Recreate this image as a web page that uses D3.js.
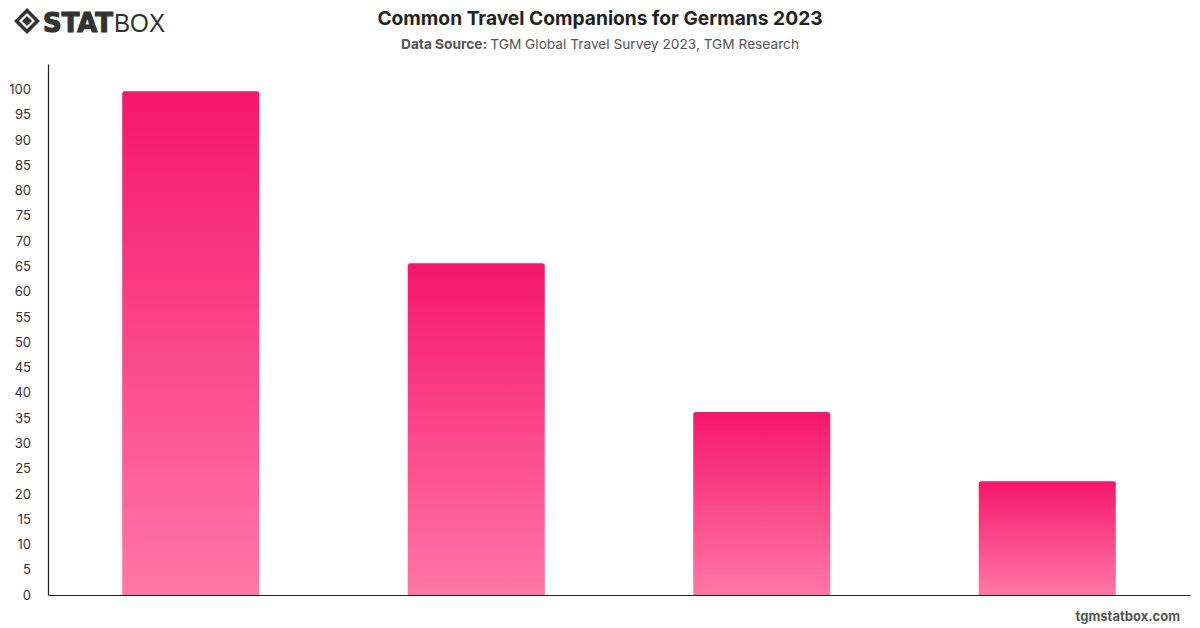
<!DOCTYPE html>
<html><head><meta charset="utf-8">
<script src="https://cdn.jsdelivr.net/npm/d3@7"></script>
<style>
body{margin:0;background:#fff;}
svg{display:block;font-family:Inter,"Liberation Sans",Arial,sans-serif;}
</style></head>
<body>
<svg id="chart" width="1200" height="628"></svg>
<script>
const categories = ["Partner", "Family", "Friends", "Alone"];
const values = [99.6, 65.6, 36.2, 22.5];
const tickValues = [0,5,10,15,20,25,30,35,40,45,50,55,60,65,70,75,80,85,90,95,100];

const svg = d3.select("#chart");
const W = 1200, H = 628;
const m = {left:48, right:10, top:64, bottom:33};
const x = d3.scaleBand().domain(categories).range([m.left, W - m.right]).paddingInner(0.52).paddingOuter(0.26);
const y = d3.scaleLinear().domain([0,105]).range([H - m.bottom, m.top]);

const defs = svg.append("defs");
const grad = defs.append("linearGradient").attr("id","barGrad").attr("x1",0).attr("y1",0).attr("x2",0).attr("y2",1);
grad.append("stop").attr("offset","0%").attr("stop-color","#f6176a");
grad.append("stop").attr("offset","100%").attr("stop-color","#ff77a5");

// bars
svg.append("g").selectAll("path").data(values).join("path")
  .attr("fill","url(#barGrad)")
  .attr("d",(d,i)=>{
    const x0 = x(categories[i]), w = x.bandwidth(), y0 = y(d), y1 = y(0), r = 2.5;
    return `M${x0},${y1}V${y0+r}Q${x0},${y0} ${x0+r},${y0}H${x0+w-r}Q${x0+w},${y0} ${x0+w},${y0+r}V${y1}Z`;
  });

// y axis
const yAxis = svg.append("g").attr("transform",`translate(${m.left},0)`)
  .call(d3.axisLeft(y).tickValues(tickValues).tickSize(0).tickPadding(17));
yAxis.select(".domain").attr("stroke","#222").attr("stroke-width",1.2);
yAxis.selectAll("text").attr("font-size",13).attr("fill","#333").attr("font-family","Inter,'Liberation Sans',Arial,sans-serif");

// x axis
const xAxis = svg.append("g").attr("transform",`translate(0,${H - m.bottom})`)
  .call(d3.axisBottom(x).tickSize(0).tickFormat(""));
xAxis.select(".domain").attr("stroke","#222").attr("stroke-width",1.2);

// title
svg.append("text").attr("x",600).attr("y",25).attr("text-anchor","middle")
  .attr("font-size",19.2).attr("font-weight",700).attr("fill","#222")
  .text("Common Travel Companions for Germans 2023");
const sub = svg.append("text").attr("x",600).attr("y",49).attr("text-anchor","middle")
  .attr("font-size",13.7).attr("fill","#555");
sub.append("tspan").attr("font-weight",700).text("Data Source: ");
sub.append("tspan").text("TGM Global Travel Survey 2023, TGM Research");

// footer
svg.append("text").attr("x",1180).attr("y",621).attr("text-anchor","end")
  .attr("font-size",13).attr("font-weight",700).attr("fill","#555").text("tgmstatbox.com");

// logo
const logo = svg.append("g").attr("transform","translate(14,8)");
logo.append("path").attr("d","M13,0 L26,13 L13,26 L0,13 Z M13,5 L5,13 L13,21 L21,13 Z").attr("fill","#333").attr("fill-rule","evenodd");
logo.append("path").attr("d","M13,8 L18,13 L13,18 L8,13 Z").attr("fill","#333");
logo.append("text").attr("x",29).attr("y",24).attr("font-size",26).attr("font-weight",900)
  .attr("fill","#333").attr("stroke","#333").attr("stroke-width",1.2)
  .attr("font-family","'DejaVu Sans',Arial,sans-serif")
  .attr("textLength",70).attr("lengthAdjust","spacingAndGlyphs").text("STAT");
logo.append("text").attr("x",100).attr("y",24).attr("font-size",26).attr("font-weight",300)
  .attr("fill","#333").attr("font-family","'Liberation Sans',Arial,sans-serif")
  .attr("textLength",51).attr("lengthAdjust","spacingAndGlyphs").text("BOX");
</script>
</body></html>
